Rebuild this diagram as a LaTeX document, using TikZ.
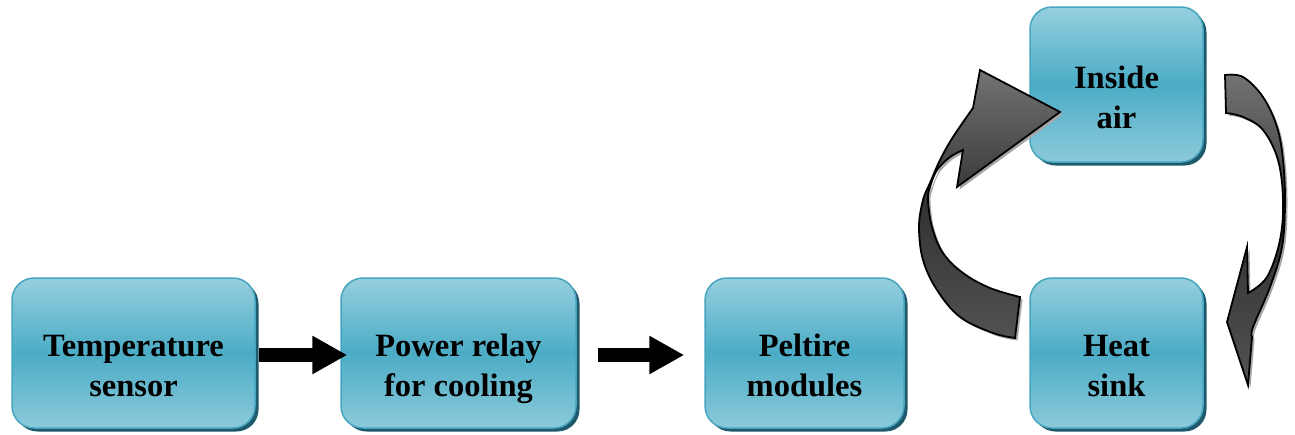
\documentclass[tikz,border=0pt]{standalone}
\usepackage{fontspec}
\setmainfont{Liberation Serif}
\usetikzlibrary{arrows.meta,shadows}

\definecolor{boxtop}{RGB}{150,207,222}
\definecolor{boxmid}{RGB}{75,172,198}
\definecolor{boxbot}{RGB}{140,202,218}
\definecolor{boxline}{RGB}{70,165,192}
\definecolor{boxshadow}{RGB}{30,90,108}

\begin{document}
\begin{tikzpicture}[x=1pt,y=-1pt,
  box/.style={rounded corners=22pt, draw=boxline, line width=1.5pt,
    top color=boxtop, bottom color=boxbot, middle color=boxmid,
    inner sep=0pt, align=center,
    font=\fontsize{32.5}{40}\selectfont\bfseries,
    text height=97pt, text depth=10pt,
    drop shadow={shadow xshift=3.5pt, shadow yshift=-3.5pt, fill=boxshadow, opacity=1}},
  flow/.style={line width=14pt, -{Triangle[length=35pt,width=36pt]}},
  loop/.style={draw=black, line width=1.8pt, line join=miter,
    top color=black!55, bottom color=black!68, middle color=black!80,
    drop shadow={shadow xshift=2.5pt, shadow yshift=-2.5pt, fill=black!35, opacity=1}}]

\useasboundingbox (0,0) rectangle (1295,434);

% process boxes
\node[box, minimum width=243pt, minimum height=150pt] (ts) at (133.5,353) {Temperature\\sensor};
\node[box, minimum width=235pt, minimum height=150pt] (pr) at (458.5,353) {Power relay\\for cooling};
\node[box, minimum width=199pt, minimum height=150pt] (pm) at (804.5,353) {Peltire\\modules};
\node[box, minimum width=173pt, minimum height=155pt] (ia) at (1116.5,84.5) {Inside\\air};
\node[box, minimum width=173pt, minimum height=150pt] (hs) at (1116.5,353) {Heat\\sink};

% straight flow arrows
\draw[flow] ([xshift=3pt,yshift=-2pt]ts.east) -- ([xshift=7pt,yshift=-2pt]pr.west);
\draw[flow] ([xshift=21pt,yshift=-2pt]pr.east) -- ([xshift=-20pt,yshift=-2pt]pm.west);

% curved arrow: heat sink back up to inside air
\path[loop] plot[smooth, tension=0.6] coordinates {(1015,338) (993,333) (960,317) (937,290) (923,260) (919,227) (923,200) (930,183) (940,160) (953,137) (973,108)}
  -- (980,70) -- (1060,112) -- (957,187) -- (963,150)
  -- plot[smooth, tension=0.6] coordinates {(963,150) (950,157) (937,170) (930,187) (928,200) (932,227) (943,253) (963,273) (990,288) (1020,297)}
  -- cycle;

% curved arrow: inside air down to heat sink
\path[loop] plot[smooth, tension=0.6] coordinates {(1225,75) (1243,77) (1263,97) (1277,127) (1283,160) (1285,203) (1282,247) (1270,287) (1253,327) (1252,337)}
  -- (1248,385) -- (1227,322) -- (1247,247) -- (1248,293)
  -- plot[smooth, tension=0.6] coordinates {(1248,293) (1267,277) (1280,240) (1283,200) (1278,160) (1263,130) (1243,117) (1226,113)}
  -- cycle;

\end{tikzpicture}
\end{document}
